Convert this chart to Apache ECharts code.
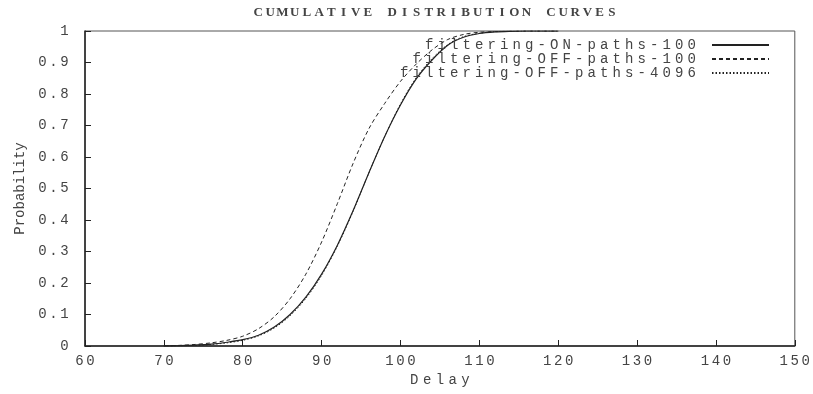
<!DOCTYPE html>
<html>
<head>
<meta charset="utf-8">
<script src="https://cdn.jsdelivr.net/npm/echarts@6/dist/echarts.min.js"></script>
<style>
  html, body { margin: 0; padding: 0; background: #fff; }
  #chart { width: 813px; height: 394px; }
</style>
</head>
<body>
<div id="chart"></div>
<script>
// delay values (x) shared by all three curves
var delays = [70, 72, 74, 76, 78, 80, 82, 84, 86, 88, 90, 92, 94, 96, 98, 100,
              102, 104, 106, 108, 110, 112, 114, 116, 118, 120];

var onPaths100 = [0, 0.001, 0.003, 0.006, 0.012, 0.02, 0.034, 0.06, 0.1, 0.155, 0.228, 0.32,
                  0.43, 0.55, 0.665, 0.765, 0.848, 0.908, 0.955, 0.98, 0.992, 0.997, 0.999, 1, 1, 1];
var offPaths100 = [0, 0.002, 0.005, 0.01, 0.018, 0.031, 0.055, 0.093, 0.15, 0.228, 0.33, 0.452,
                   0.58, 0.69, 0.77, 0.84, 0.895, 0.94, 0.973, 0.989, 0.996, 0.998, 0.999, 1, 1, 1];
var offPaths4096 = [0, 0.001, 0.002, 0.005, 0.01, 0.018, 0.032, 0.057, 0.096, 0.151, 0.224, 0.317,
                    0.428, 0.55, 0.665, 0.768, 0.852, 0.912, 0.957, 0.982, 0.993, 0.998, 0.999, 1, 1, 1];

var seriesNames = ['filtering-ON-paths-100', 'filtering-OFF-paths-100', 'filtering-OFF-paths-4096'];

var mono = 'Liberation Mono';
var ink = '#222';
var textInk = '#444';

// gnuplot's text is stretched wide, so every char gets its own fixed-width cell
function spaced(str, style) {
    return str.split('').map(function (c) {
        return '{' + style + '|' + c + '}';
    }).join('');
}

function pairs(ys) {
    return delays.map(function (d, i) { return [d, ys[i]]; });
}

var chart = echarts.init(document.getElementById('chart'));

var option = {
    animation: false,
    backgroundColor: '#fff',
    title: {
        text: spaced('CUMULATIVE DISTRIBUTION CURVES', 't'),
        left: 247,
        top: 1,
        textStyle: {
            rich: {
                t: { width: 12.2, align: 'center', fontFamily: 'Liberation Serif', fontSize: 13, color: textInk }
            }
        }
    },
    legend: {
        orient: 'vertical',
        align: 'right',
        right: 38,
        top: 33,
        itemWidth: 57,
        itemHeight: 10,
        itemGap: 0,
        data: seriesNames,
        itemStyle: { color: 'transparent', borderColor: 'transparent', borderWidth: 0, opacity: 0 },
        formatter: function (name) {
            while (name.length < 24) name = ' ' + name;
            return spaced(name, 'l') + '{sp| }';
        },
        textStyle: {
            rich: {
                l: { width: 12.5, align: 'center', fontFamily: mono, fontSize: 14, color: textInk, lineHeight: 13.5 },
                sp: { width: 9, lineHeight: 13.5 }
            }
        }
    },
    grid: {
        left: 85,
        right: 17,
        top: 31,
        bottom: 48,
        show: true,
        borderColor: '#555',
        borderWidth: 1
    },
    xAxis: {
        type: 'value',
        min: 60,
        max: 150,
        interval: 10,
        name: spaced('Delay', 'n'),
        nameLocation: 'middle',
        nameGap: 27,
        nameTextStyle: {
            rich: {
                n: { width: 12.8, align: 'center', fontFamily: mono, fontSize: 14, color: textInk }
            }
        },
        axisLine: { lineStyle: { color: ink, width: 1.5 } },
        axisTick: { inside: true, length: 6, lineStyle: { color: ink } },
        splitLine: { show: false },
        axisLabel: {
            margin: 8,
            formatter: function (v) { return spaced(String(v), 'a'); },
            rich: {
                a: { width: 11, align: 'center', fontFamily: mono, fontSize: 14, color: textInk }
            }
        }
    },
    yAxis: {
        type: 'value',
        min: 0,
        max: 1,
        interval: 0.1,
        name: 'Probability',
        nameLocation: 'middle',
        nameGap: 58,
        nameTextStyle: { fontFamily: mono, fontSize: 14, color: textInk },
        axisLine: { lineStyle: { color: ink, width: 1.5 } },
        axisTick: { inside: true, length: 6, lineStyle: { color: ink } },
        splitLine: { show: false },
        axisLabel: {
            margin: 15,
            formatter: function (v) { return spaced(String(+v.toFixed(1)), 'a'); },
            rich: {
                a: { width: 11, align: 'center', fontFamily: mono, fontSize: 14, color: textInk }
            }
        }
    },
    series: [
        {
            name: seriesNames[0],
            type: 'line',
            symbol: 'none',
            smooth: 0.3,
            clip: true,
            lineStyle: { color: ink, width: 1.2, type: 'solid' },
            itemStyle: { color: ink },
            data: pairs(onPaths100)
        },
        {
            name: seriesNames[1],
            type: 'line',
            symbol: 'none',
            smooth: 0.3,
            clip: true,
            lineStyle: { color: ink, width: 1, type: [4, 3] },
            itemStyle: { color: ink },
            data: pairs(offPaths100)
        },
        {
            name: seriesNames[2],
            type: 'line',
            symbol: 'none',
            smooth: 0.3,
            clip: true,
            lineStyle: { color: ink, width: 1, type: [1.5, 2] },
            itemStyle: { color: ink },
            data: pairs(offPaths4096)
        }
    ]
};

chart.setOption(option);
</script>
</body>
</html>
